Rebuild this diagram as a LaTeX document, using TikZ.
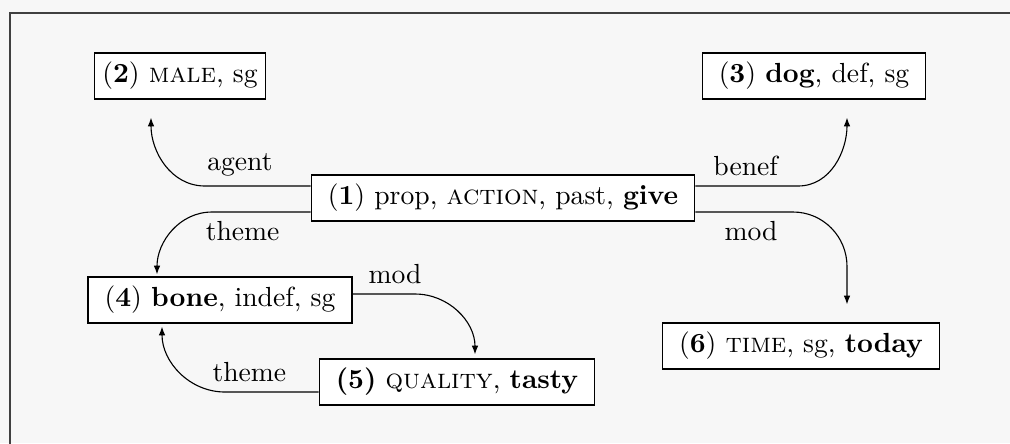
\documentclass[tikz,border=0pt]{standalone}
\usepackage{amssymb, amsmath}
\usepackage{tikz}
\usepackage{xcolor}
\usetikzlibrary{arrows.meta, calc}

\begin{document}
\begin{tikzpicture}[x=0.362pt, y=-0.362pt,
  box/.style={draw, thin, inner xsep=6pt, inner ysep=3.33pt, fill=white},
  rel/.style={thin, -{Latex[length=3.2pt,width=2.4pt]}}]

\useasboundingbox (0,0) rectangle (1010,443);
\fill[black!3] (0,0) rectangle (1010,443);
\draw[line width=0.6pt, black!75] (10,445) |- (1012,13);

\node[box] (n1) at (503,198) {(\textbf{1}) prop, \textsc{action}, past, \textbf{give}};
\node[box, inner xsep=3pt] (n2) at (180,76) {(\textbf{2}) \textsc{male}, sg};
\node[box] (n3) at (814,76) {(\textbf{3}) \textbf{dog}, def, sg};
\node[box] (n4) at (220,300) {(\textbf{4}) \textbf{bone}, indef, sg};
\node[box] (n5) at (457,382) {\textbf{(5)} \textsc{quality}, \textbf{tasty}};
\node[box] (n6) at (801,346) {(\textbf{6}) \textsc{time}, sg, \textbf{today}};

\coordinate (agentTip) at ($(n2.south)+(-29,18)$);
\coordinate (benefTip) at ($(n3.south)+(33,18)$);
\coordinate (themeTip) at ($(n4.north)+(-63,-2)$);
\coordinate (timeTip) at ($(n6.north)+(46,-18)$);
\coordinate (qualTip) at ($(n5.north)+(18,-4)$);
\coordinate (boneTip) at ($(n4.south)+(-58,3)$);

\coordinate (s1) at ($(n1.west)+(0,-12)$);
\coordinate (s2) at ($(n1.west)+(0,14)$);
\coordinate (s3) at ($(n1.east)+(0,-12)$);
\coordinate (s4) at ($(n1.east)+(0,14)$);
\coordinate (s5) at ($(n4.east)+(0,-6)$);
\coordinate (s6) at ($(n5.west)+(0,10)$);

\coordinate (c1) at ($(agentTip)+(54,0)$);
\coordinate (c2) at ($(themeTip)+(55,0)$);
\coordinate (c3) at ($(benefTip)+(-49,0)$);
\coordinate (c4) at ($(timeTip)+(-54,0)$);
\coordinate (c5) at ($(qualTip)+(-60,0)$);
\coordinate (c6) at ($(boneTip)+(63,0)$);


\draw[rel] (s1) -- node[above,pos=0.67] {agent} (c1 |- s1) to[out=180,in=-90] (agentTip);
\draw[rel] (s2) -- node[below,pos=0.69] {theme} (c2 |- s2) to[out=180,in=90] (themeTip);
\draw[rel] (s3) -- node[above,pos=0.49] {benef} (c3 |- s3) to[out=0,in=-90] (benefTip);
\draw[rel] (s4) -- node[below,pos=0.57] {mod} (c4 |- s4)
  to[out=0,in=90] ($(timeTip)+(0,-38)$) -- (timeTip);


\draw[rel] (s5) -- node[above,pos=0.68] {mod} (c5 |- s5) to[out=0,in=90] (qualTip);
\draw[rel] (s6) -- node[above,pos=0.74] {theme} (c6 |- s6) to[out=180,in=-90] (boneTip);

\end{tikzpicture}
\end{document}
